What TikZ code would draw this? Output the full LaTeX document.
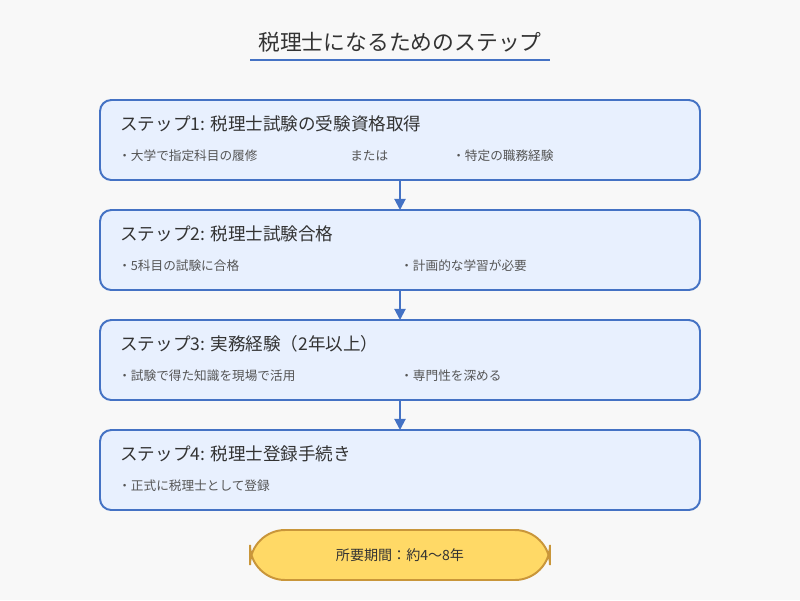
\documentclass[tikz,border=0pt]{standalone}
\usepackage{fontspec}
\setmainfont{Noto Sans CJK JP}
\usetikzlibrary{arrows.meta}
\definecolor{bg}{HTML}{F8F8F8}
\definecolor{bluel}{HTML}{4472C4}
\definecolor{boxf}{HTML}{E8F0FE}
\definecolor{pillf}{HTML}{FFD966}
\definecolor{pilld}{HTML}{C9963A}
\definecolor{txt}{HTML}{333333}
\definecolor{sub}{HTML}{555555}
\tikzset{
 stepbox/.style={draw=bluel,line width=1.4pt,fill=boxf,rounded corners=8pt},
 head/.style={anchor=west,text=txt,font=\fontsize{12.5}{14}\selectfont,inner sep=0},
 item/.style={anchor=west,text=sub,font=\fontsize{9}{11}\selectfont,inner sep=0},
 conn/.style={draw=bluel,line width=1.4pt,-{Triangle[length=8pt,width=8pt]}}
}
\begin{document}
\begin{tikzpicture}[x=0.025cm,y=-0.025cm]
\fill[bg] (0,0) rectangle (800,600);
\node[text=txt,font=\fontsize{15.5}{18}\selectfont,inner sep=0] (title) at (400,42) {税理士になるためのステップ};
\draw[bluel,line width=2pt] (250,60) -- (550,60);
\foreach \n/\y in {1/100,2/210,3/320,4/430}{
 \draw[stepbox] (100,\y) rectangle (700,\y+80);
 \coordinate (t\n) at (400,\y);
 \coordinate (b\n) at (400,\y+80);
}
\node[head] (h1) at (120,124) {ステップ1: 税理士試験の受験資格取得};
\node[item] (i11) at (118,156) {・大学で指定科目の履修};
\node[item] (i12) at (350,156) {または};
\node[item] (i13) at (452,156) {・特定の職務経験};
\node[head] (h2) at (120,234) {ステップ2: 税理士試験合格};
\node[item] (i21) at (118,266) {・5科目の試験に合格};
\node[item] (i22) at (400,266) {・計画的な学習が必要};
\node[head] (h3) at (120,344) {ステップ3: 実務経験（2年以上）};
\node[item] (i31) at (118,376) {・試験で得た知識を現場で活用};
\node[item] (i32) at (400,376) {・専門性を深める};
\node[head] (h4) at (120,454) {ステップ4: 税理士登録手続き};
\node[item] (i41) at (118,486) {・正式に税理士として登録};
\draw[conn] (b1) -- (t2);
\draw[conn] (b2) -- (t3);
\draw[conn] (b3) -- (t4);
\draw[draw=pilld,line width=1.4pt,fill=pillf,rounded corners=25pt] (250,530) rectangle (550,580);
\node[text=txt,font=\fontsize{10}{12}\selectfont,inner sep=0] (p) at (400,555) {所要期間：約4〜8年};
\end{tikzpicture}
\end{document}
